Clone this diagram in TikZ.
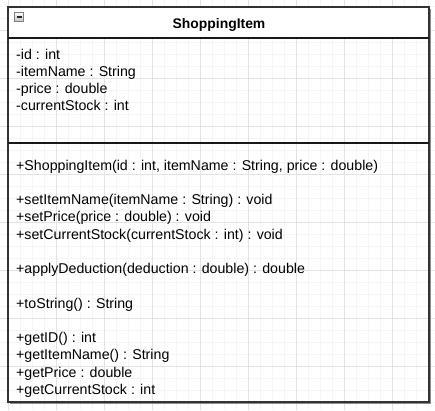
\documentclass[tikz,border=0pt]{standalone}
\usepackage{fontspec}
\setmainfont{Liberation Sans}
\begin{document}
\begin{tikzpicture}[x=1pt,y=-1pt,
  minorgrid/.style={draw=black!4,line width=0.8pt},
  majorgrid/.style={draw=black!11,line width=0.8pt},
  border/.style={draw=black!80,line width=1.1pt},
  shadowline/.style={draw=black!45,line width=1.4pt},
  memb/.style={anchor=base west,inner sep=0pt,font=\fontsize{14.2}{16}\selectfont},
  titletext/.style={anchor=base,inner sep=0pt,font=\fontsize{13.9}{16}\selectfont\bfseries}]
\useasboundingbox (0,0) rectangle (435,410);
\fill[white] (0,0) rectangle (435,410);
% grid
\foreach \x in {8,20,...,435} \draw[minorgrid] (\x,0) -- (\x,410);
\foreach \y in {6,18,...,410} \draw[minorgrid] (0,\y) -- (435,\y);
\foreach \x in {8,56,...,435} \draw[majorgrid] (\x,0) -- (\x,410);
\foreach \y in {30,78,...,410} \draw[majorgrid] (0,\y) -- (435,\y);
% shadow
\draw[shadowline] (430.5,9) -- (430.5,403.5) -- (10,403.5);
% header
\fill[white] (8,7) rectangle (429,38);
\draw[border] (8,7) rectangle (429,402);
\draw[border,draw=black!90] (8,38) -- (429,38);
\draw[border,draw=black!90] (8,143) -- (429,143);
% collapse icon
\node[draw=black!50,line width=0.6pt,inner sep=0pt,minimum size=9.5pt,
  top color=white,bottom color=black!25] (icon) at (19,17) {};
\draw[black!85,line width=1.3pt] ([xshift=-2.5pt]icon.center) -- ([xshift=2.5pt]icon.center);
% title
\node[titletext] (title) at (219,28) {ShoppingItem};
% attributes
\node[memb] (a1) at (16,59) {-id : int};
\node[memb] (a2) at (16,76.25) {-itemName : String};
\node[memb] (a3) at (16,93.5) {-price : double};
\node[memb] (a4) at (16,110.75) {-currentStock : int};
% methods
\node[memb] (m1) at (16,170) {+ShoppingItem(id : int, itemName : String, price : double)};
\node[memb] (m2) at (16,204.5) {+setItemName(itemName : String) : void};
\node[memb] (m3) at (16,221.75) {+setPrice(price : double) : void};
\node[memb] (m4) at (16,239) {+setCurrentStock(currentStock : int) : void};
\node[memb] (m5) at (16,273.5) {+applyDeduction(deduction : double) : double};
\node[memb] (m6) at (16,308) {+toString() : String};
\node[memb] (m7) at (16,342.5) {+getID() : int};
\node[memb] (m8) at (16,359.75) {+getItemName() : String};
\node[memb] (m9) at (16,377) {+getPrice : double};
\node[memb] (m10) at (16,394.25) {+getCurrentStock : int};
\end{tikzpicture}
\end{document}
